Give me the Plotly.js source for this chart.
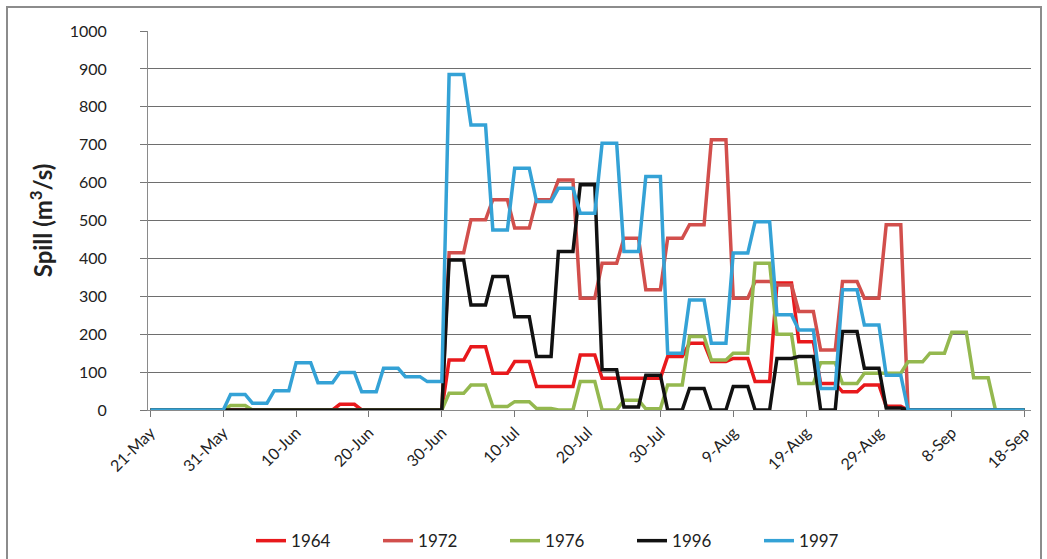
<!DOCTYPE html>
<html>
<head>
<meta charset="utf-8">
<script src="https://cdn.plot.ly/plotly-3.0.1.min.js"></script>
<style>
  html, body { margin: 0; padding: 0; background: #fff; }
  #wrap { position: relative; width: 1047px; height: 559px; overflow: hidden; }
  #chart { position: absolute; left: 0; top: 0; width: 1047px; height: 559px; }
  #frame { position: absolute; left: 6px; top: 6px; width: 1032px; height: 570px;
           border: 2px solid #8c8c8c; pointer-events: none; }
</style>
</head>
<body>
<div id="wrap">
  <div id="chart"></div>
  <div id="frame"></div>
</div>
<script>
// Daily spill values (m3/s) from 21-May (index 0) to 18-Sep (index 120)
const startDate = [2001, 4, 21];

const s1964 = [
  0,0,
  0,0,0, 0,0,0, 0,0,0, 0,0,0, 0,0,0, 0,0,0, 0,0,0, 0,0,0,
  15,15,15, 0,0,0, 0,0,0, 0,0,0, 0,0,0,
  132,132,132, 167,167,167, 97,97,97, 128,128,128, 62,62,62, 62,62,62, 145,145,145, 84,84,84, 84,84,84, 84,84,84,
  141,141,141, 176,176,176, 128,128,128, 136,136,136, 75,75,75, 335,335,335, 180,180,180, 70,70,70, 48,48,48, 66,66,66,
  10,10,10, 0,0,0, 0,0,0, 0,0,0, 0,0,0, 0,0,0,
  0,0
];

const s1972 = [
  0,0,
  0,0,0, 0,0,0, 0,0,0, 0,0,0, 0,0,0, 0,0,0, 0,0,0, 0,0,0,
  0,0,0, 0,0,0, 0,0,0, 0,0,0, 0,0,0,
  415,415,415, 502,502,502, 555,555,555, 480,480,480, 555,555,555, 607,607,607, 295,295,295, 387,387,387, 453,453,453, 317,317,317,
  453,453,453, 489,489,489, 713,713,713, 295,295,295, 339,339,339, 330,330,330, 260,260,260, 158,158,158, 339,339,339, 295,295,295,
  489,489,489, 0,0,0, 0,0,0, 0,0,0, 0,0,0, 0,0,0,
  0,0
];

const s1976 = [
  0,0,
  0,0,0, 0,0,0, 0,0,0, 12,12,12, 0,0,0, 0,0,0, 0,0,0, 0,0,0,
  0,0,0, 0,0,0, 0,0,0, 0,0,0, 0,0,0,
  44,44,44, 66,66,66, 9,9,9, 22,22,22, 4,4,4, 0,0,0, 75,75,75, 0,0,0, 26,26,26, 3,3,3,
  66,66,66, 194,194,194, 132,132,132, 150,150,150, 387,387,387, 200,200,200, 70,70,70, 125,125,125, 70,70,70, 97,97,97,
  97,97,97, 127,127,127, 150,150,150, 205,205,205, 85,85,85, 0,0,0,
  0,0
];

const s1996 = [
  0,0,
  0,0,0, 0,0,0, 0,0,0, 0,0,0, 0,0,0, 0,0,0, 0,0,0, 0,0,0,
  0,0,0, 0,0,0, 0,0,0, 0,0,0, 0,0,0,
  396,396,396, 277,277,277, 352,352,352, 246,246,246, 141,141,141, 418,418,418, 594,594,594, 106,106,106, 8,8,8, 92,92,92,
  0,0,0, 57,57,57, 0,0,0, 62,62,62, 0,0,0, 136,136,136, 141,141,141, 0,0,0, 207,207,207, 110,110,110,
  5,5,5, 0,0,0, 0,0,0, 0,0,0, 0,0,0, 0,0,0,
  0,0
];

const s1997 = [
  0,0,
  0,0,0, 0,0,0, 0,0,0, 41,41,41, 18,18,18, 51,51,51, 125,125,125, 72,72,72,
  99,99,99, 48,48,48, 110,110,110, 88,88,88, 75,75,75,
  885,885,885, 752,752,752, 475,475,475, 638,638,638, 550,550,550, 585,585,585, 519,519,519, 704,704,704, 418,418,418, 616,616,616,
  150,150,150, 290,290,290, 176,176,176, 414,414,414, 497,497,497, 251,251,251, 211,211,211, 57,57,57, 317,317,317, 224,224,224,
  92,92,92, 0,0,0, 0,0,0, 0,0,0, 0,0,0, 0,0,0,
  0,0
];

const seriesNames = ['1964', '1972', '1976', '1996', '1997'];
const seriesColors = ['#e8191c', '#d24f4c', '#94b84f', '#111111', '#34a2d6'];

const tickDates = ['2001-05-21','2001-05-31','2001-06-10','2001-06-20','2001-06-30','2001-07-10',
                   '2001-07-20','2001-07-30','2001-08-09','2001-08-19','2001-08-29','2001-09-08','2001-09-18'];
const tickLabels = ['21-May','31-May','10-Jun','20-Jun','30-Jun','10-Jul',
                    '20-Jul','30-Jul','9-Aug','19-Aug','29-Aug','8-Sep','18-Sep'];
const yTicks = [0,100,200,300,400,500,600,700,800,900,1000];

const allSeries = [s1964, s1972, s1976, s1996, s1997];
const dates = s1997.map((_, i) =>
  new Date(Date.UTC(startDate[0], startDate[1], startDate[2] + i)).toISOString().slice(0, 10));

const traces = allSeries.map((vals, k) => ({
  type: 'scatter',
  mode: 'lines',
  name: seriesNames[k],
  x: dates,
  y: vals,
  line: { color: seriesColors[k], width: 3.5 },
  hoverinfo: 'x+y+name'
}));

const layout = {
  width: 1047,
  height: 559,
  margin: { l: 148, r: 16, t: 31, b: 149 },
  paper_bgcolor: '#ffffff',
  plot_bgcolor: '#ffffff',
  font: { family: 'Lato, "Open Sans", sans-serif', color: '#222', size: 15 },
  xaxis: {
    type: 'date',
    range: ['2001-05-20 16:00', '2001-09-18 21:00'],
    tickmode: 'array',
    tickvals: tickDates,
    ticktext: tickLabels,
    tickangle: -45,
    tickfont: { size: 16, color: '#222' },
    ticks: 'outside',
    ticklen: 6,
    tickcolor: '#777',
    showgrid: false,
    showline: true,
    linecolor: '#8a8a8a',
    linewidth: 1,
    zeroline: false,
    automargin: false
  },
  yaxis: {
    range: [0, 1000],
    tickmode: 'array',
    tickvals: yTicks,
    tickfont: { size: 16, color: '#222' },
    ticks: 'outside',
    ticklen: 7,
    tickcolor: '#777',
    ticklabelstandoff: 30,
    showgrid: true,
    gridcolor: '#6e6e6e',
    gridwidth: 1,
    showline: true,
    linecolor: '#8a8a8a',
    linewidth: 1,
    zeroline: false,
    automargin: false,
    title: {
      text: 'Spill (m<sup>3</sup>/s)',
      font: { family: 'Lato, "Open Sans", sans-serif', size: 24, color: '#222', weight: 'bold' },
      standoff: 10
    }
  },
  showlegend: true,
  legend: {
    orientation: 'h',
    xref: 'container',
    yref: 'container',
    x: 0.543,
    xanchor: 'center',
    y: 0.032,
    yanchor: 'middle',
    font: { size: 17, color: '#222' },
    entrywidth: 82,
    entrywidthmode: 'pixels',
    bgcolor: 'rgba(0,0,0,0)'
  }
};

Plotly.newPlot('chart', traces, layout, { displayModeBar: false, staticPlot: true });
</script>
</body>
</html>
